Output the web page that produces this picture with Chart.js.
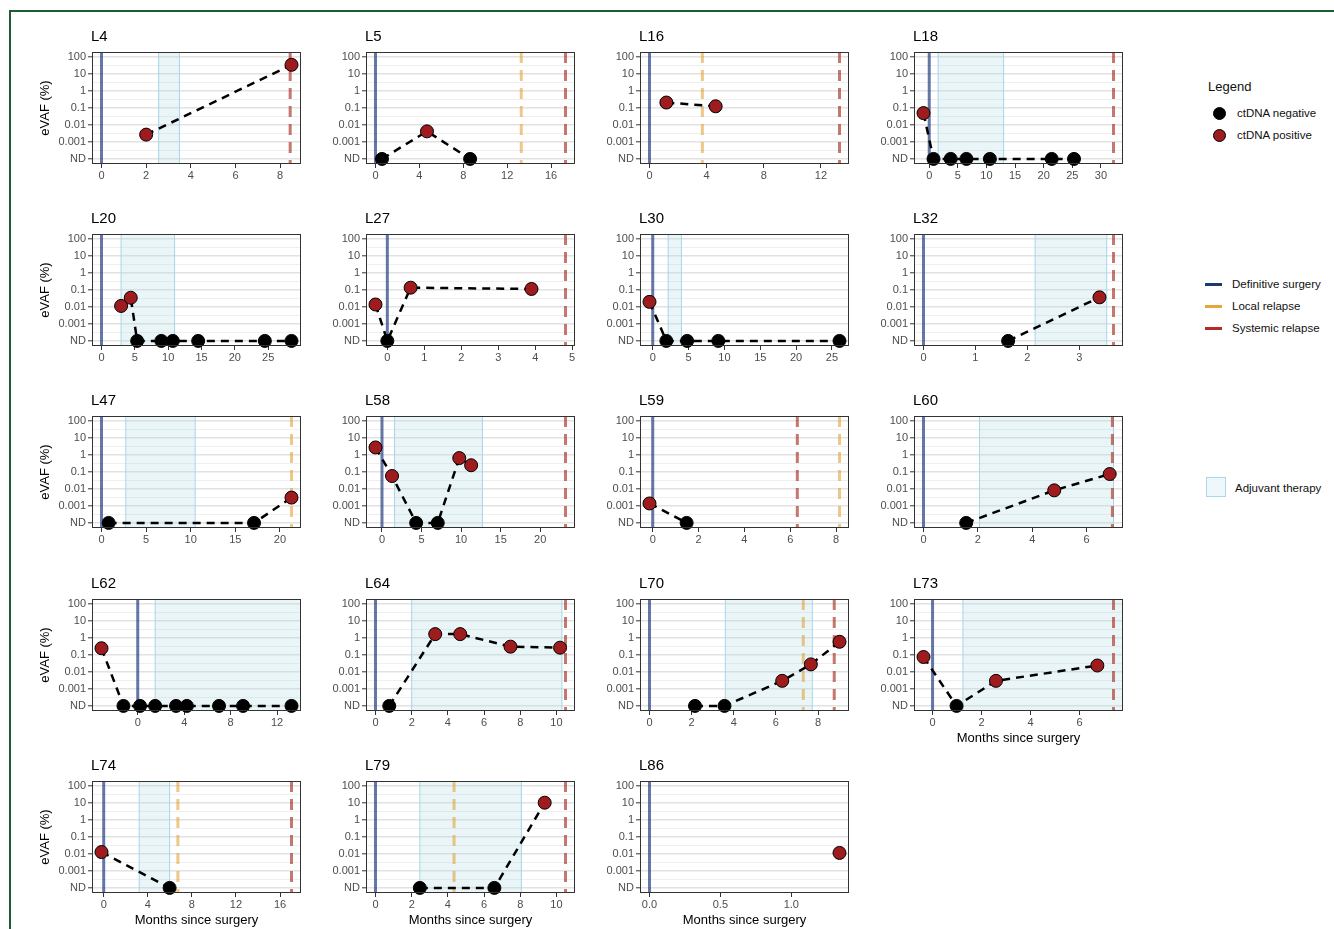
<!DOCTYPE html>
<html><head><meta charset="utf-8">
<script src="https://cdn.jsdelivr.net/npm/chart.js@4.4.0/dist/chart.umd.min.js"></script>
<style>
html,body{margin:0;padding:0;background:#fff;}
body{width:1334px;height:929px;overflow:hidden;position:relative;font-family:'Liberation Sans',Arial,sans-serif;}
#frame{position:absolute;left:9px;top:10px;width:1400px;height:1000px;border-left:2px solid #1d5b34;border-top:2px solid #1d5b34;}
canvas{position:absolute;}
.lg{position:absolute;font-size:11.5px;color:#111;white-space:nowrap;line-height:14px;}
.dot{position:absolute;width:11px;height:11px;border-radius:50%;border:1px solid #000;}
.ln{position:absolute;width:17px;height:3px;}
</style></head><body>
<div id="frame"></div>
<div id="legend">
  <div class="lg" style="left:1208px;top:80px;font-size:13px;">Legend</div>
  <div class="dot" style="left:1213px;top:107px;background:#000;"></div>
  <div class="lg" style="left:1237px;top:106px;">ctDNA negative</div>
  <div class="dot" style="left:1213px;top:129px;background:#9e1b1e;"></div>
  <div class="lg" style="left:1237px;top:128px;">ctDNA positive</div>
  <div class="ln" style="left:1205px;top:283px;background:#1b3a6e;"></div>
  <div class="lg" style="left:1232px;top:277px;">Definitive surgery</div>
  <div class="ln" style="left:1205px;top:305px;background:#e3a83b;"></div>
  <div class="lg" style="left:1232px;top:299px;">Local relapse</div>
  <div class="ln" style="left:1205px;top:327px;background:#b32b2b;"></div>
  <div class="lg" style="left:1232px;top:321px;">Systemic relapse</div>
  <div style="position:absolute;left:1206px;top:477px;width:18px;height:18px;background:#eef7fa;border:1.5px solid #a9d9ea;"></div>
  <div class="lg" style="left:1235px;top:481px;">Adjuvant therapy</div>
</div>
<script>
// ---------------- data ----------------
const patients = ['L4','L5','L16','L18','L20','L27','L30','L32','L47','L58','L59','L60','L62','L64','L70','L73','L74','L79','L86'];

const sampleMonths = [
  [2.0, 8.51],
  [0.59, 4.69, 8.62],
  [1.18, 4.63],
  [-1.0, 0.75, 3.75, 6.5, 10.6, 21.4, 25.3],
  [2.94, 4.39, 5.35, 8.98, 10.7, 14.5, 24.5, 28.5],
  [-0.32, 0.0, 0.63, 3.9],
  [-0.45, 1.9, 4.8, 9.15, 26.05],
  [1.63, 3.39],
  [0.8, 17.1, 21.3],
  [-0.82, 1.27, 4.32, 7.05, 9.77, 11.27],
  [-0.14, 1.48],
  [1.57, 4.81, 6.85],
  [-3.12, -1.23, 0.2, 1.5, 3.3, 4.23, 7.0, 9.07, 13.24],
  [0.76, 3.3, 4.68, 7.46, 10.2],
  [2.16, 3.56, 6.3, 7.66, 9.02],
  [-0.37, 0.98, 2.59, 6.73],
  [-0.2, 5.98],
  [2.45, 6.57, 9.35],
  [1.34]
];

const sampleEVAF = [
  [0.0027, 35],
  ['ND', 0.0042, 'ND'],
  [0.21, 0.126],
  [0.05, 'ND', 'ND', 'ND', 'ND', 'ND', 'ND'],
  [0.0115, 0.035, 'ND', 'ND', 'ND', 'ND', 'ND', 'ND'],
  [0.014, 'ND', 0.137, 0.115],
  [0.02, 'ND', 'ND', 'ND', 'ND'],
  ['ND', 0.037],
  ['ND', 'ND', 0.0031],
  [2.8, 0.058, 'ND', 'ND', 0.66, 0.25],
  [0.0014, 'ND'],
  ['ND', 0.0083, 0.076],
  [0.25, 'ND', 'ND', 'ND', 'ND', 'ND', 'ND', 'ND', 'ND'],
  ['ND', 1.7, 1.7, 0.31, 0.27],
  ['ND', 'ND', 0.003, 0.028, 0.6],
  [0.076, 'ND', 0.003, 0.024],
  [0.013, 'ND'],
  ['ND', 'ND', 10.5],
  [0.0115]
];

const surgeryMonth = 0;
const adjuvantStart = [2.56, null, null, 1.56, 2.94, null, 2.15, 2.15, 2.72, 1.59, null, 2.06, 1.5, 2.0, 3.6, 1.24, 3.22, 2.45, null];
const adjuvantEnd   = [3.49, null, null, 13.0, 10.96, null, 4.0, 3.53, 10.5, 12.7, null, 6.99, Infinity, 10.3, 7.73, Infinity, 5.98, 8.06, null];
const localRelapse    = [null, 13.28, 3.7, null, null, null, null, null, 21.3, null, 8.15, null, null, null, 7.3, null, 6.73, 4.34, null];
const systemicRelapse = [8.45, 17.31, 13.3, 32.2, null, 4.82, null, 3.66, null, 23.2, 6.31, 6.95, null, 10.5, 8.77, 7.39, 17.04, 10.5, null];

const xTickStep = [2, 4, 4, 5, 5, 1, 5, 1, 5, 5, 2, 2, 4, 2, 2, 2, 4, 2, 0.5];
const yTickLabels = ['ND', '0.001', '0.01', '0.1', '1', '10', '100'];

// ---------------- layout / style ----------------
const ND_LEVEL = 1e-4;
const COL_LEFT = 92, COL_PITCH = 274, ROW_TOP = 52, ROW_PITCH = 182.2;
const PLOT_W = 209, PLOT_H = 112, Y_PAD = 0.3;
const FONT = "'Liberation Sans', Arial, sans-serif";
Chart.defaults.font.family = FONT;

function fmtX(v, step) { return step < 1 ? v.toFixed(1) : String(Math.round(v)); }

function buildPanel(i) {
  const row = Math.floor(i / 4), col = i % 4;
  const showY = col === 0, showX = i >= 15;
  const yW = showY ? 56 : 45, xH = showX ? 36 : 20;
  const padL = 4, padR = 8, padT = 28, padB = 2;
  const W = padL + yW + PLOT_W + padR, H = padT + PLOT_H + xH + padB;
  const plotLeft = COL_LEFT + col * COL_PITCH;
  const plotTop = Math.round(ROW_TOP + row * ROW_PITCH);

  const cv = document.createElement('canvas');
  cv.width = W; cv.height = H;
  cv.style.left = (plotLeft - yW - padL) + 'px';
  cv.style.top = (plotTop - padT) + 'px';
  cv.style.width = W + 'px'; cv.style.height = H + 'px';
  document.body.appendChild(cv);

  const pts = sampleMonths[i].map((m, k) => ({ x: m, y: sampleEVAF[i][k] === 'ND' ? ND_LEVEL : sampleEVAF[i][k] }));

  // ggplot-like range: data + events, expanded by 5%
  const xs = sampleMonths[i].concat([surgeryMonth, localRelapse[i], systemicRelapse[i], adjuvantStart[i], adjuvantEnd[i]])
    .filter(v => v !== null && isFinite(v));
  const lo = Math.min(...xs), hi = Math.max(...xs), ex = (hi - lo) * 0.05;
  const xmin = lo - ex, xmax = hi + ex;
  const step = xTickStep[i];
  const xticks = [];
  for (let v = Math.ceil(xmin / step - 1e-9) * step; v <= xmax + 1e-9; v += step) xticks.push(+v.toFixed(6));

  const yticks = [];
  for (let k = 0; k <= 12; k++) yticks.push({ value: Math.pow(10, k / 2 - 4) });

  const eventsPlugin = {
    id: 'clinicalEvents' + i,
    beforeDatasetsDraw(chart) {
      const { ctx, chartArea: a } = chart; const x = chart.scales.x;
      ctx.save();
      ctx.beginPath(); ctx.rect(a.left, a.top, a.width, a.height); ctx.clip();
      if (adjuvantStart[i] !== null) {
        const x0 = x.getPixelForValue(adjuvantStart[i]);
        const x1 = isFinite(adjuvantEnd[i]) ? x.getPixelForValue(adjuvantEnd[i]) : a.right + 3;
        ctx.fillStyle = 'rgba(168,212,222,0.24)';
        ctx.fillRect(x0, a.top, x1 - x0, a.height);
        ctx.strokeStyle = '#a6d6e8'; ctx.lineWidth = 1;
        ctx.beginPath();
        ctx.moveTo(x0, a.top); ctx.lineTo(x0, a.bottom);
        ctx.moveTo(x1, a.top); ctx.lineTo(x1, a.bottom);
        ctx.stroke();
      }
      const vline = (val, color, dash) => {
        if (val === null) return;
        const px = x.getPixelForValue(val);
        ctx.strokeStyle = color; ctx.lineWidth = 3; ctx.setLineDash(dash);
        ctx.beginPath(); ctx.moveTo(px, a.top); ctx.lineTo(px, a.bottom); ctx.stroke();
      };
      vline(surgeryMonth, 'rgba(28,55,125,0.68)', []);
      vline(localRelapse[i], 'rgba(224,160,48,0.58)', [11, 7]);
      vline(systemicRelapse[i], 'rgba(170,50,35,0.66)', [11, 7]);
      ctx.restore();
    },
    afterDraw(chart) {
      const { ctx, chartArea: a } = chart;
      ctx.save();
      ctx.strokeStyle = '#333'; ctx.lineWidth = 1;
      ctx.strokeRect(Math.round(a.left) + 0.5, Math.round(a.top) + 0.5, Math.round(a.width) - 1, Math.round(a.height) - 1);
      ctx.fillStyle = '#000'; ctx.font = '15px ' + FONT; ctx.textBaseline = 'alphabetic'; ctx.textAlign = 'left';
      ctx.fillText(patients[i], a.left - 1, a.top - 11);
      ctx.restore();
    }
  };

  new Chart(cv, {
    type: 'line',
    data: { datasets: [{
      data: pts, showLine: true, tension: 0, clip: false,
      borderColor: '#000', borderWidth: 2.5, borderDash: [8, 6],
      pointRadius: 6.5, pointHoverRadius: 6.5, pointBorderWidth: 1, pointBorderColor: '#000',
      pointBackgroundColor: pts.map(p => p.y === ND_LEVEL ? '#000' : '#9e1b1e')
    }] },
    options: {
      responsive: false, animation: false, events: [],
      layout: { padding: { left: padL, right: padR, top: padT, bottom: padB } },
      plugins: { legend: { display: false }, tooltip: { enabled: false }, title: { display: false } },
      scales: {
        x: {
          type: 'linear', min: xmin, max: xmax, bounds: 'data',
          afterFit(s) { s.height = xH; },
          afterBuildTicks(s) { s.ticks = xticks.map(v => ({ value: v })); },
          grid: { drawOnChartArea: false, drawTicks: true, tickLength: 4, tickColor: '#333', tickWidth: 1 },
          border: { display: false },
          ticks: { autoSkip: false, maxRotation: 0, padding: 1, color: '#4d4d4d', font: { size: 11 }, callback: v => fmtX(v, step) },
          title: { display: showX, text: 'Months since surgery', color: '#000', font: { size: 13 }, padding: { top: 0, bottom: 1 } }
        },
        y: {
          type: 'logarithmic', min: Math.pow(10, -4 - Y_PAD), max: Math.pow(10, 2 + Y_PAD), bounds: 'data',
          afterFit(s) { s.width = yW; },
          afterBuildTicks(s) { s.ticks = yticks.map(t => ({ value: t.value })); },
          grid: {
            color: c => (c.index % 2 === 0 ? '#e2e2e2' : '#efefef'),
            lineWidth: c => (c.index % 2 === 0 ? 1.6 : 1),
            tickColor: c => (c.index % 2 === 0 ? '#333' : 'rgba(0,0,0,0)'),
            tickLength: 4, tickWidth: 1, drawTicks: true
          },
          border: { display: false },
          ticks: {
            autoSkip: false, padding: 2, color: '#4d4d4d', font: { size: 11 },
            callback: (v) => { const k = Math.round((Math.log10(v) + 4) * 2); return k % 2 === 0 ? yTickLabels[k / 2] : ''; }
          },
          title: { display: showY, text: 'eVAF (%)', color: '#000', font: { size: 13 }, padding: { top: 2, bottom: 0 } }
        }
      }
    },
    plugins: [eventsPlugin]
  });
}

for (let i = 0; i < patients.length; i++) buildPanel(i);
</script>
</body></html>
